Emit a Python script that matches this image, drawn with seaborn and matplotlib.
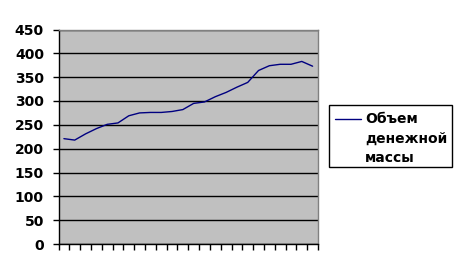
import matplotlib
matplotlib.use("Agg")
import matplotlib.pyplot as plt
import seaborn as sns
import numpy as np
import pandas as pd
from matplotlib.patches import Rectangle
from matplotlib.lines import Line2D

# ---- data ----
series_name = "Объем денежной массы"
legend_lines = ["Объем", "денежной", "массы"]
periods = list(range(24))
values = [221, 218, 231, 242, 251, 254, 269, 275, 276, 276, 278, 282,
          295, 298, 309, 318, 329, 339, 364, 374, 377, 377, 383, 373]
y_ticks = [0, 50, 100, 150, 200, 250, 300, 350, 400, 450]

df = pd.DataFrame({"period": periods, "value": values})

sns.set_theme(style="white")
plt.rcParams['font.family'] = ['DejaVu Sans']
plt.rcParams['font.weight'] = 'bold'

FS = 10

fig = plt.figure(figsize=(4.61, 2.77), dpi=100)
fig.patch.set_facecolor("white")
W, H = 461, 277
left, right, top, bottom = 58.5, 318, 29.5, 244
ax = fig.add_axes([left / W, (H - bottom) / H, (right - left) / W, (bottom - top) / H])
ax.set_facecolor("#C0C0C0")

sns.lineplot(data=df, x="period", y="value", ax=ax, color="#000080",
             linewidth=1.0, legend=False)

ax.set_xlim(-0.5, len(periods) - 0.5)
ax.set_ylim(y_ticks[0], y_ticks[-1])
ax.set_yticks(y_ticks)
ax.set_yticklabels([str(t) for t in y_ticks], fontsize=FS, fontweight='bold', color='black')
ax.set_xticks(np.arange(-0.5, len(periods), 1.0))
ax.set_xticklabels([])
ax.set_xlabel("")
ax.set_ylabel("")
ax.yaxis.grid(True, color="black", linewidth=1.0)
ax.xaxis.grid(False)
ax.tick_params(axis='y', direction='out', length=4.5, width=1, color='black', pad=6, left=True)
ax.tick_params(axis='x', direction='out', length=4.5, width=1, color='black', bottom=True)

for s in ["left", "bottom"]:
    ax.spines[s].set_color("black")
    ax.spines[s].set_linewidth(1.0)
for s in ["top", "right"]:
    ax.spines[s].set_color("#808080")
    ax.spines[s].set_linewidth(1.0)
ax.spines["top"].set_visible(True)
ax.spines["right"].set_visible(True)

# ---- legend (Excel style: handle aligned with first line) ----
bx0, by0, bx1, by1 = 329, 105, 452, 167
fig.patches.append(Rectangle((bx0 / W, (H - by1) / H), (bx1 - bx0) / W, (by1 - by0) / H,
                             transform=fig.transFigure, facecolor="white",
                             edgecolor="black", linewidth=1.0))
fig.lines.append(Line2D([335 / W, 361 / W], [(H - 118.5) / H] * 2,
                        transform=fig.transFigure, color="#000080", linewidth=1.0))
for i, line in enumerate(legend_lines):
    fig.text(365 / W, (H - (119 + 19.3 * i)) / H, line, fontsize=FS,
             fontweight='bold', va='center', ha='left', color='black')

fig.savefig("out.png", dpi=100)
